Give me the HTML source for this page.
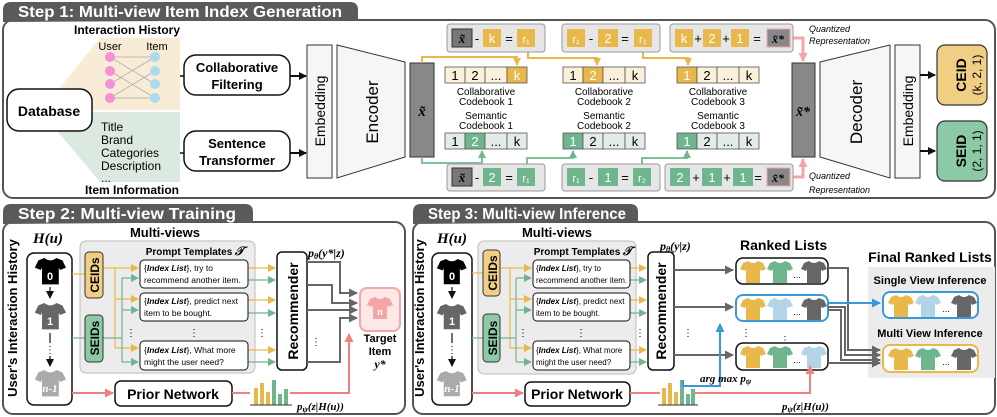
<!DOCTYPE html>
<html><head><meta charset="utf-8"><style>
html,body{margin:0;padding:0;background:#fff;}
svg{display:block;font-family:"Liberation Sans",sans-serif;}
.t{font-weight:bold;fill:#fff;font-size:16px}
.b{font-weight:bold}
.m{font-family:"Liberation Serif",serif;font-style:italic;font-weight:bold}
</style></head><body>
<svg width="997" height="417" viewBox="0 0 997 417" xmlns="http://www.w3.org/2000/svg">
<defs>
<marker id="ak" markerWidth="8" markerHeight="8" refX="7" refY="4" orient="auto" markerUnits="userSpaceOnUse"><path d="M0,0L8,4L0,8z" fill="#111"/></marker>
<marker id="ay" markerWidth="8" markerHeight="8" refX="7" refY="4" orient="auto" markerUnits="userSpaceOnUse"><path d="M0,0L8,4L0,8z" fill="#e8b94a"/></marker>
<marker id="ag" markerWidth="8" markerHeight="8" refX="7" refY="4" orient="auto" markerUnits="userSpaceOnUse"><path d="M0,0L8,4L0,8z" fill="#6fb58e"/></marker>
<marker id="ap" markerWidth="9" markerHeight="9" refX="8" refY="4.5" orient="auto" markerUnits="userSpaceOnUse"><path d="M0,0L9,4.5L0,9z" fill="#f08080"/></marker>
<marker id="aq" markerWidth="9" markerHeight="9" refX="8" refY="4.5" orient="auto" markerUnits="userSpaceOnUse"><path d="M0,0L9,4.5L0,9z" fill="#f4a6a6"/></marker>
<marker id="ad" markerWidth="9" markerHeight="9" refX="8" refY="4.5" orient="auto" markerUnits="userSpaceOnUse"><path d="M0,0L9,4.5L0,9z" fill="#666"/></marker>
<marker id="ab" markerWidth="9" markerHeight="9" refX="8" refY="4.5" orient="auto" markerUnits="userSpaceOnUse"><path d="M0,0L9,4.5L0,9z" fill="#3a9ad9"/></marker>
<path id="sh" d="M7,0 L2,2 L-1,8 L4,10 L5,8 L5,22 L19,22 L19,8 L20,10 L25,8 L22,2 L17,0 Q12,4 7,0 Z"/>
</defs>

<!-- STEP 1 -->
<rect x="3" y="20" width="992" height="178" rx="10" fill="#fff" stroke="#555" stroke-width="2"/>
<path d="M3,22 L3,10 Q3,2 11,2 L350,2 Q358,2 358,10 L358,20 Z" fill="#5a5a5a"/>
<text x="18" y="17" class="t" textLength="324" lengthAdjust="spacingAndGlyphs">Step 1: Multi-view Item Index Generation</text>

<text x="127" y="34" class="b" font-size="12" text-anchor="middle">Interaction History</text>
<path d="M100,38 L180,38 L180,110 L92,110 L58,90 Z" fill="#f8ecd6"/>
<path d="M92,112 L180,112 L180,182 L100,182 L58,132 Z" fill="#dbe9e1"/>
<text x="110" y="50" font-size="11" text-anchor="middle">User</text>
<text x="157" y="50" font-size="11" text-anchor="middle">Item</text>
<g stroke="#aaa" stroke-width="0.8">
<line x1="110" y1="57" x2="155" y2="84"/><line x1="110" y1="57" x2="155" y2="57"/><line x1="110" y1="71" x2="155" y2="98"/>
<line x1="110" y1="84" x2="155" y2="57"/><line x1="110" y1="98" x2="155" y2="71"/><line x1="110" y1="98" x2="155" y2="98"/>
</g>
<g fill="#f58fd8"><circle cx="110" cy="57" r="5"/><circle cx="110" cy="71" r="5"/><circle cx="110" cy="84" r="5"/><circle cx="110" cy="98" r="5"/></g>
<g fill="#a8dcef"><circle cx="155" cy="57" r="5"/><circle cx="155" cy="71" r="5"/><circle cx="155" cy="84" r="5"/><circle cx="155" cy="98" r="5"/></g>
<text x="101" y="131" font-size="12">Title</text>
<text x="101" y="144" font-size="12">Brand</text>
<text x="101" y="157" font-size="12">Categories</text>
<text x="101" y="170" font-size="12">Description</text>
<text x="101" y="182" font-size="12">...</text>
<text x="132" y="194" class="b" font-size="12" text-anchor="middle">Item Information</text>
<rect x="7" y="89" width="85" height="42" rx="12" fill="#fff" stroke="#111" stroke-width="1.5"/>
<text x="49" y="116" class="b" font-size="14" text-anchor="middle">Database</text>

<rect x="184" y="55" width="106" height="40" rx="12" fill="#fff" stroke="#111" stroke-width="1.5"/>
<text x="237" y="72" class="b" font-size="13" text-anchor="middle">Collaborative</text>
<text x="237" y="89" class="b" font-size="13" text-anchor="middle">Filtering</text>
<rect x="184" y="131" width="106" height="40" rx="12" fill="#fff" stroke="#111" stroke-width="1.5"/>
<text x="237" y="148" class="b" font-size="13" text-anchor="middle">Sentence</text>
<text x="237" y="165" class="b" font-size="13" text-anchor="middle">Transformer</text>
<line x1="180" y1="76" x2="184" y2="76" stroke="#111" stroke-width="1.5"/>
<line x1="180" y1="153" x2="184" y2="153" stroke="#111" stroke-width="1.5"/>
<line x1="290" y1="76" x2="306" y2="76" stroke="#111" stroke-width="2" marker-end="url(#ak)"/>
<line x1="290" y1="153" x2="306" y2="153" stroke="#111" stroke-width="2" marker-end="url(#ak)"/>

<rect x="307" y="45" width="25" height="133" fill="#f6f6f4" stroke="#333"/>
<text transform="translate(325,111) rotate(-90)" font-size="14" text-anchor="middle">Embedding</text>
<path d="M337,45 L405,62 L405,157 L337,178 Z" fill="#f6f6f4" stroke="#333"/>
<text transform="translate(378,112) rotate(-90)" font-size="17" text-anchor="middle">Encoder</text>
<rect x="410" y="63" width="24" height="94" fill="#888" stroke="#333"/>
<text x="422" y="116" class="m" font-size="15" text-anchor="middle">x̃</text>

<g fill="none" stroke="#e8b94a" stroke-width="2">
<path d="M422,63 L422,57 L517,57 L517,65" marker-end="url(#ay)"/>
<path d="M528,52 L528,58 L597,58 L597,65" marker-end="url(#ay)"/>
<path d="M643,52 L643,58 L688,58 L688,65" marker-end="url(#ay)"/>
</g>
<g fill="none" stroke="#7cc39a" stroke-width="2">
<path d="M422,157 L422,163 L482,163 L482,151" marker-end="url(#ag)"/>
<path d="M527,164 L527,158 L573,158 L573,151" marker-end="url(#ag)"/>
<path d="M642,164 L642,158 L687,158 L687,151" marker-end="url(#ag)"/>
</g>
<g fill="none" stroke="#f4a6a6" stroke-width="3">
<path d="M790,38 L803,38 L803,61" marker-end="url(#aq)"/>
<path d="M790,177 L803,177 L803,159" marker-end="url(#aq)"/>
</g>

<g font-size="13" text-anchor="middle">
<rect x="447" y="24" width="98" height="28" rx="3" fill="#e6e6e6" stroke="#999"/>
<rect x="452" y="29" width="20" height="18" fill="#777" stroke="#333"/><text x="462" y="43" class="m">x̃</text>
<text x="477" y="43">-</text>
<rect x="483" y="29" width="18" height="18" fill="#e8b94a"/><text x="492" y="43" fill="#fff">k</text>
<text x="509" y="43">=</text>
<rect x="517" y="29" width="18" height="18" fill="#e8b94a"/><text x="526" y="43" fill="#fff" font-size="11">r₁</text>

<rect x="562" y="24" width="98" height="28" rx="3" fill="#e6e6e6" stroke="#999"/>
<rect x="567" y="29" width="18" height="18" fill="#e8b94a"/><text x="576" y="43" fill="#fff" font-size="11">r₁</text>
<text x="591" y="43">-</text>
<rect x="598" y="29" width="20" height="18" fill="#e8b94a"/><text x="608" y="43" fill="#fff">2</text>
<text x="625" y="43">=</text>
<rect x="634" y="29" width="18" height="18" fill="#e8b94a"/><text x="643" y="43" fill="#fff" font-size="11">r₂</text>

<rect x="670" y="24" width="123" height="28" rx="3" fill="#e6e6e6" stroke="#999"/>
<rect x="675" y="29" width="18" height="18" fill="#e8b94a"/><text x="684" y="43" fill="#fff">k</text>
<text x="698" y="43">+</text>
<rect x="703" y="29" width="18" height="18" fill="#e8b94a"/><text x="712" y="43" fill="#fff">2</text>
<text x="726" y="43">+</text>
<rect x="731" y="29" width="18" height="18" fill="#e8b94a"/><text x="740" y="43" fill="#fff">1</text>
<text x="757" y="43">=</text>
<rect x="767" y="29" width="23" height="18" fill="#888" stroke="#f4a6a6"/><text x="778" y="43" class="m" font-size="12">x̃*</text>

<rect x="447" y="164" width="98" height="27" rx="3" fill="#e6e6e6" stroke="#999"/>
<rect x="452" y="168" width="20" height="18" fill="#777" stroke="#333"/><text x="462" y="182" class="m">x̃</text>
<text x="477" y="182">-</text>
<rect x="483" y="168" width="18" height="18" fill="#6fb58e"/><text x="492" y="182" fill="#fff">2</text>
<text x="509" y="182">=</text>
<rect x="517" y="168" width="18" height="18" fill="#6fb58e"/><text x="526" y="182" fill="#fff" font-size="11">r₁</text>

<rect x="562" y="164" width="98" height="27" rx="3" fill="#e6e6e6" stroke="#999"/>
<rect x="567" y="168" width="18" height="18" fill="#6fb58e"/><text x="576" y="182" fill="#fff" font-size="11">r₁</text>
<text x="591" y="182">-</text>
<rect x="598" y="168" width="20" height="18" fill="#6fb58e"/><text x="608" y="182" fill="#fff">1</text>
<text x="625" y="182">=</text>
<rect x="633" y="168" width="18" height="18" fill="#6fb58e"/><text x="642" y="182" fill="#fff" font-size="11">r₂</text>

<rect x="665" y="164" width="128" height="27" rx="3" fill="#e6e6e6" stroke="#999"/>
<rect x="670" y="168" width="20" height="18" fill="#6fb58e"/><text x="680" y="182" fill="#fff">2</text>
<text x="696" y="182">+</text>
<rect x="702" y="168" width="20" height="18" fill="#6fb58e"/><text x="712" y="182" fill="#fff">1</text>
<text x="727" y="182">+</text>
<rect x="733" y="168" width="20" height="18" fill="#6fb58e"/><text x="743" y="182" fill="#fff">1</text>
<text x="758" y="182">=</text>
<rect x="767" y="168" width="23" height="18" fill="#888" stroke="#f4a6a6"/><text x="778" y="182" class="m" font-size="12">x̃*</text>
</g>

<g font-size="13" text-anchor="middle" stroke="#555" stroke-width="0.8">
<rect x="445" y="67" width="20" height="16" fill="#fbf0d9"/><rect x="465" y="67" width="20" height="16" fill="#fbf0d9"/><rect x="485" y="67" width="22" height="16" fill="#fbf0d9"/><rect x="507" y="67" width="20" height="16" fill="#e8b94a"/>
<rect x="563" y="67" width="20" height="16" fill="#fbf0d9"/><rect x="583" y="67" width="20" height="16" fill="#e8b94a"/><rect x="603" y="67" width="22" height="16" fill="#fbf0d9"/><rect x="625" y="67" width="20" height="16" fill="#fbf0d9"/>
<rect x="677" y="67" width="20" height="16" fill="#e8b94a"/><rect x="697" y="67" width="20" height="16" fill="#fbf0d9"/><rect x="717" y="67" width="22" height="16" fill="#fbf0d9"/><rect x="739" y="67" width="20" height="16" fill="#fbf0d9"/>
<rect x="445" y="133" width="20" height="16" fill="#e3ece8"/><rect x="465" y="133" width="20" height="16" fill="#6fb58e"/><rect x="485" y="133" width="22" height="16" fill="#e3ece8"/><rect x="507" y="133" width="20" height="16" fill="#e3ece8"/>
<rect x="563" y="133" width="20" height="16" fill="#6fb58e"/><rect x="583" y="133" width="20" height="16" fill="#e3ece8"/><rect x="603" y="133" width="22" height="16" fill="#e3ece8"/><rect x="625" y="133" width="20" height="16" fill="#e3ece8"/>
<rect x="677" y="133" width="20" height="16" fill="#6fb58e"/><rect x="697" y="133" width="20" height="16" fill="#e3ece8"/><rect x="717" y="133" width="22" height="16" fill="#e3ece8"/><rect x="739" y="133" width="20" height="16" fill="#e3ece8"/>
</g>
<g font-size="13" text-anchor="middle">
<text x="455" y="80">1</text><text x="475" y="80">2</text><text x="496" y="80">...</text><text x="517" y="80" fill="#fff">k</text>
<text x="573" y="80">1</text><text x="593" y="80" fill="#fff">2</text><text x="614" y="80">...</text><text x="635" y="80">k</text>
<text x="687" y="80" fill="#fff">1</text><text x="707" y="80">2</text><text x="728" y="80">...</text><text x="749" y="80">k</text>
<text x="455" y="146">1</text><text x="475" y="146" fill="#fff">2</text><text x="496" y="146">...</text><text x="517" y="146">k</text>
<text x="573" y="146" fill="#fff">1</text><text x="593" y="146">2</text><text x="614" y="146">...</text><text x="635" y="146">k</text>
<text x="687" y="146" fill="#fff">1</text><text x="707" y="146">2</text><text x="728" y="146">...</text><text x="749" y="146">k</text>
</g>
<g font-size="10" text-anchor="middle">
<text x="486" y="95">Collaborative</text><text x="486" y="105">Codebook 1</text>
<text x="486" y="119">Semantic</text><text x="486" y="129">Codebook 1</text>
<text x="604" y="95">Collaborative</text><text x="604" y="105">Codebook 2</text>
<text x="604" y="119">Semantic</text><text x="604" y="129">Codebook 2</text>
<text x="718" y="95">Collaborative</text><text x="718" y="105">Codebook 3</text>
<text x="718" y="119">Semantic</text><text x="718" y="129">Codebook 3</text>
</g>
<g font-size="9" font-style="italic">
<text x="809" y="32">Quantized</text><text x="809" y="44">Representation</text>
<text x="809" y="179">Quantized</text><text x="809" y="193">Representation</text>
</g>
<rect x="792" y="63" width="23" height="94" fill="#888" stroke="#333"/>
<text x="803" y="116" class="m" font-size="14" text-anchor="middle">x̃*</text>
<path d="M820,62 L890,45 L890,178 L820,157 Z" fill="#f6f6f4" stroke="#333"/>
<text transform="translate(862,112) rotate(-90)" font-size="17" text-anchor="middle">Decoder</text>
<rect x="895" y="45" width="25" height="133" fill="#f6f6f4" stroke="#333"/>
<text transform="translate(913,111) rotate(-90)" font-size="14" text-anchor="middle">Embedding</text>
<line x1="920" y1="75" x2="935" y2="75" stroke="#111" stroke-width="2" marker-end="url(#ak)"/>
<line x1="920" y1="151" x2="935" y2="151" stroke="#111" stroke-width="2" marker-end="url(#ak)"/>
<rect x="937" y="45" width="50" height="60" rx="8" fill="#f0cf85" stroke="#333" stroke-width="1.2"/>
<text transform="translate(966,75) rotate(-90)" class="b" font-size="14" text-anchor="middle">CEID</text>
<text transform="translate(981,75) rotate(-90)" font-size="12" text-anchor="middle">(k, 2, 1)</text>
<rect x="937" y="121" width="50" height="60" rx="8" fill="#8ccaa5" stroke="#333" stroke-width="1.2"/>
<text transform="translate(966,151) rotate(-90)" class="b" font-size="14" text-anchor="middle">SEID</text>
<text transform="translate(981,151) rotate(-90)" font-size="12" text-anchor="middle">(2, 1, 1)</text>

<!-- STEP 2 -->
<rect x="3" y="222" width="402" height="192" rx="10" fill="#fff" stroke="#555" stroke-width="2"/>
<path d="M3,224 L3,212 Q3,204 11,204 L245,204 Q253,204 253,212 L253,222 Z" fill="#5a5a5a"/>
<text x="18" y="219" class="t" textLength="218" lengthAdjust="spacingAndGlyphs">Step 2: Multi-view Training</text>
<text transform="translate(17,318) rotate(-90)" class="b" font-size="13" text-anchor="middle">User's Interaction History</text>
<text x="48" y="243" class="m" font-size="15" text-anchor="middle">H(u)</text>
<rect x="27" y="253" width="45" height="152" rx="7" fill="#fff" stroke="#111" stroke-width="1.5"/>
<g transform="translate(36,258) scale(1.2)"><use href="#sh" fill="#000"/></g>
<g transform="translate(36,303) scale(1.2)"><use href="#sh" fill="#666"/></g>
<g transform="translate(36,370) scale(1.2)"><use href="#sh" fill="#aaa"/></g>
<g font-size="11" class="b" fill="#fff" text-anchor="middle"><text x="50" y="280">0</text><text x="50" y="325">1</text><text x="50" y="392" font-family="Liberation Serif" font-style="italic">n-1</text></g>
<g stroke="#111" stroke-width="1.2"><line x1="50" y1="287" x2="50" y2="298" marker-end="url(#ak)"/><line x1="50" y1="333" x2="50" y2="343"/><line x1="50" y1="356" x2="50" y2="366" marker-end="url(#ak)"/></g>
<text x="50" y="353" font-size="10" text-anchor="middle">⋮</text>

<text x="165" y="237" class="b" font-size="13" text-anchor="middle">Multi-views</text>
<rect x="80" y="241" width="175" height="132" rx="6" fill="#ececec" stroke="#bbb"/>
<text x="195" y="255" class="b" font-size="10" text-anchor="middle">Prompt Templates <tspan class="m" font-size="12">𝒯</tspan></text>
<g fill="none" stroke="#e8b94a" stroke-width="1.2">
<path d="M72,274 L85,274"/><path d="M103,268 L115,268 L115,348"/>
<path d="M115,268 L138,268" marker-end="url(#ay)"/><path d="M115,299 L138,299" marker-end="url(#ay)"/><path d="M115,348 L138,348" marker-end="url(#ay)"/>
<path d="M248,268 L275,268" marker-end="url(#ay)"/><path d="M248,300 L275,300" marker-end="url(#ay)"/><path d="M248,350 L275,350" marker-end="url(#ay)"/>
</g>
<g fill="none" stroke="#6fb58e" stroke-width="1.2">
<path d="M72,338 L85,338"/><path d="M103,338 L122,338"/><path d="M122,278 L122,362"/>
<path d="M122,278 L138,278" marker-end="url(#ag)"/><path d="M122,310 L138,310" marker-end="url(#ag)"/><path d="M122,362 L138,362" marker-end="url(#ag)"/>
<path d="M248,280 L275,280" marker-end="url(#ag)"/><path d="M248,313 L275,313" marker-end="url(#ag)"/><path d="M248,362 L275,362" marker-end="url(#ag)"/>
</g>
<rect x="85" y="252" width="18" height="46" rx="4" fill="#f0cf85" stroke="#333"/>
<text transform="translate(99,275) rotate(-90)" class="b" font-size="12" text-anchor="middle">CEIDs</text>
<rect x="85" y="315" width="18" height="47" rx="4" fill="#8ccaa5" stroke="#333"/>
<text transform="translate(99,338) rotate(-90)" class="b" font-size="12" text-anchor="middle">SEIDs</text>
<g font-size="8.5">
<rect x="140" y="260" width="108" height="28" rx="4" fill="#fff" stroke="#111"/>
<text x="144" y="271">{<tspan font-weight="bold" font-style="italic">Index List</tspan>}, try to</text><text x="144" y="283">recommend another item.</text>
<rect x="140" y="293" width="108" height="28" rx="4" fill="#fff" stroke="#111"/>
<text x="144" y="304">{<tspan font-weight="bold" font-style="italic">Index List</tspan>}, predict next</text><text x="144" y="316">item to be bought.</text>
<rect x="140" y="341" width="108" height="29" rx="4" fill="#fff" stroke="#111"/>
<text x="144" y="353">{<tspan font-weight="bold" font-style="italic">Index List</tspan>}, What more</text><text x="144" y="365">might the user need?</text>
</g>
<g font-size="10" text-anchor="middle"><text x="131" y="336">⋮</text><text x="194" y="336">⋮</text><text x="262" y="336">⋮</text><text x="316" y="345">⋮</text></g>
<rect x="277" y="252" width="30" height="118" rx="5" fill="#fff" stroke="#111" stroke-width="1.5"/>
<text transform="translate(298,311) rotate(-90)" class="b" font-size="14" text-anchor="middle">Recommender</text>
<text x="308" y="257" class="m" font-size="12">p<tspan font-size="8" dy="2">θ</tspan><tspan dy="-2">(y*|z)</tspan></text>
<g fill="none" stroke="#666" stroke-width="2">
<path d="M307,262 L340,262 L340,293 L357,293" marker-end="url(#ad)"/>
<path d="M307,285 L332,285 L332,303 L357,303" marker-end="url(#ad)"/>
<path d="M307,310 L357,310" marker-end="url(#ad)"/>
<path d="M307,362 L340,362 L340,318 L357,318" marker-end="url(#ad)"/>
</g>
<rect x="360" y="288" width="40" height="43" rx="7" fill="#fde8e8" stroke="#f4a6a6" stroke-width="2"/>
<g transform="translate(368,297)"><use href="#sh" fill="#f4a6a6"/></g>
<text x="380" y="315" class="m" fill="#fff" font-size="10" text-anchor="middle">n</text>
<text x="380" y="342" class="b" font-size="11" text-anchor="middle">Target</text>
<text x="380" y="355" class="b" font-size="11" text-anchor="middle">Item</text>
<text x="380" y="368" class="m" font-size="12" text-anchor="middle">y*</text>
<rect x="115" y="381" width="117" height="25" rx="6" fill="#fff" stroke="#111" stroke-width="1.5"/>
<text x="173" y="399" class="b" font-size="14" text-anchor="middle">Prior Network</text>
<path d="M72,393 L113,393" stroke="#f08080" stroke-width="2" marker-end="url(#ap)"/>
<path d="M232,393 L250,393 M290,393 L349,393 L349,334" fill="none" stroke="#f08080" stroke-width="2" marker-end="url(#ap)"/>
<g><rect x="254" y="388" width="4" height="17" fill="#e8b94a"/><rect x="260" y="383" width="4" height="22" fill="#e8b94a"/><rect x="266" y="392" width="4" height="13" fill="#e8b94a"/><rect x="272" y="380" width="4" height="25" fill="#6fb58e"/><rect x="278" y="394" width="4" height="11" fill="#6fb58e"/><rect x="284" y="389" width="4" height="16" fill="#6fb58e"/><line x1="250" y1="405" x2="292" y2="405" stroke="#333"/></g>
<text x="297" y="410" class="m" font-size="11">p<tspan font-size="8" dy="2">ψ</tspan><tspan dy="-2">(z|H(u))</tspan></text>

<!-- STEP 3 -->
<rect x="413" y="222" width="582" height="192" rx="10" fill="#fff" stroke="#555" stroke-width="2"/>
<path d="M413,224 L413,212 Q413,204 421,204 L630,204 Q638,204 638,212 L638,222 Z" fill="#5a5a5a"/>
<text x="428" y="219" class="t" textLength="198" lengthAdjust="spacingAndGlyphs">Step 3: Multi-view Inference</text>
<text transform="translate(424,318) rotate(-90)" class="b" font-size="13" text-anchor="middle">User's Interaction History</text>
<text x="452" y="243" class="m" font-size="15" text-anchor="middle">H(u)</text>
<rect x="432" y="253" width="40" height="152" rx="7" fill="#fff" stroke="#111" stroke-width="1.5"/>
<g transform="translate(438,259) scale(1.15)"><use href="#sh" fill="#000"/></g>
<g transform="translate(438,304) scale(1.15)"><use href="#sh" fill="#666"/></g>
<g transform="translate(438,371) scale(1.15)"><use href="#sh" fill="#aaa"/></g>
<g font-size="11" class="b" fill="#fff" text-anchor="middle"><text x="452" y="280">0</text><text x="452" y="325">1</text><text x="452" y="392" font-family="Liberation Serif" font-style="italic">n-1</text></g>
<g stroke="#111" stroke-width="1.2"><line x1="452" y1="287" x2="452" y2="298" marker-end="url(#ak)"/><line x1="452" y1="333" x2="452" y2="343"/><line x1="452" y1="356" x2="452" y2="366" marker-end="url(#ak)"/></g>
<text x="452" y="353" font-size="10" text-anchor="middle">⋮</text>

<text x="557" y="237" class="b" font-size="13" text-anchor="middle">Multi-views</text>
<rect x="478" y="241" width="158" height="133" rx="6" fill="#ececec" stroke="#bbb"/>
<text x="583" y="255" class="b" font-size="10" text-anchor="middle">Prompt Templates <tspan class="m" font-size="12">𝒯</tspan></text>
<g fill="none" stroke="#e8b94a" stroke-width="1.2">
<path d="M472,273 L483,273"/><path d="M500,268 L510,268 L510,348"/>
<path d="M510,268 L531,268" marker-end="url(#ay)"/><path d="M510,299 L531,299" marker-end="url(#ay)"/><path d="M510,348 L531,348" marker-end="url(#ay)"/>
<path d="M630,268 L646,268" marker-end="url(#ay)"/><path d="M630,300 L646,300" marker-end="url(#ay)"/><path d="M630,350 L646,350" marker-end="url(#ay)"/>
</g>
<g fill="none" stroke="#6fb58e" stroke-width="1.2">
<path d="M472,338 L483,338"/><path d="M500,338 L516,338"/><path d="M516,278 L516,362"/>
<path d="M516,278 L531,278" marker-end="url(#ag)"/><path d="M516,310 L531,310" marker-end="url(#ag)"/><path d="M516,362 L531,362" marker-end="url(#ag)"/>
<path d="M630,280 L646,280" marker-end="url(#ag)"/><path d="M630,313 L646,313" marker-end="url(#ag)"/><path d="M630,362 L646,362" marker-end="url(#ag)"/>
</g>
<rect x="483" y="250" width="17" height="46" rx="4" fill="#f0cf85" stroke="#333"/>
<text transform="translate(497,273) rotate(-90)" class="b" font-size="12" text-anchor="middle">CEIDs</text>
<rect x="483" y="314" width="17" height="48" rx="4" fill="#8ccaa5" stroke="#333"/>
<text transform="translate(497,338) rotate(-90)" class="b" font-size="12" text-anchor="middle">SEIDs</text>
<g font-size="8">
<rect x="533" y="260" width="97" height="28" rx="4" fill="#fff" stroke="#111"/>
<text x="536" y="271">{<tspan font-weight="bold" font-style="italic">Index List</tspan>}, try to</text><text x="536" y="283">recommend another item.</text>
<rect x="533" y="293" width="97" height="28" rx="4" fill="#fff" stroke="#111"/>
<text x="536" y="304">{<tspan font-weight="bold" font-style="italic">Index List</tspan>}, predict next</text><text x="536" y="316">item to be bought.</text>
<rect x="533" y="341" width="97" height="29" rx="4" fill="#fff" stroke="#111"/>
<text x="536" y="353">{<tspan font-weight="bold" font-style="italic">Index List</tspan>}, What more</text><text x="536" y="365">might the user need?</text>
</g>
<g font-size="10" text-anchor="middle"><text x="523" y="336">⋮</text><text x="581" y="336">⋮</text><text x="640" y="336">⋮</text><text x="688" y="336">⋮</text><text x="746" y="336">⋮</text><text x="785" y="343">⋮</text></g>
<rect x="648" y="252" width="26" height="118" rx="5" fill="#fff" stroke="#111" stroke-width="1.5"/>
<text transform="translate(666,311) rotate(-90)" class="b" font-size="14" text-anchor="middle">Recommender</text>
<text x="660" y="250" class="m" font-size="12">p<tspan font-size="8" dy="2">θ</tspan><tspan dy="-2">(y|z)</tspan></text>
<text x="740" y="250" class="b" font-size="14">Ranked Lists</text>
<g stroke="#666" stroke-width="2">
<line x1="674" y1="270" x2="733" y2="270" marker-end="url(#ad)"/>
<line x1="674" y1="307" x2="733" y2="307" marker-end="url(#ad)"/>
<line x1="674" y1="355" x2="733" y2="355" marker-end="url(#ad)"/>
</g>
<rect x="736" y="258" width="92" height="26" rx="7" fill="#fff" stroke="#111" stroke-width="1.5"/>
<rect x="736" y="295" width="92" height="26" rx="7" fill="#fff" stroke="#3a9ad9" stroke-width="2"/>
<rect x="736" y="343" width="92" height="27" rx="7" fill="#fff" stroke="#111" stroke-width="1.5"/>
<g transform="translate(741,261)"><use href="#sh" fill="#e8b94a"/></g><g transform="translate(768,261)"><use href="#sh" fill="#6fb58e"/></g><g transform="translate(802,261)"><use href="#sh" fill="#666"/></g>
<g transform="translate(741,298)"><use href="#sh" fill="#e8b94a"/></g><g transform="translate(768,298)"><use href="#sh" fill="#b3d4e6"/></g><g transform="translate(802,298)"><use href="#sh" fill="#666"/></g>
<g transform="translate(741,346)"><use href="#sh" fill="#e8b94a"/></g><g transform="translate(768,346)"><use href="#sh" fill="#6fb58e"/></g><g transform="translate(802,346)"><use href="#sh" fill="#b3d4e6"/></g>
<g font-size="9" text-anchor="middle"><text x="797" y="278">...</text><text x="797" y="315">...</text><text x="797" y="363">...</text></g>

<text x="930" y="262" class="b" font-size="14" text-anchor="middle">Final Ranked Lists</text>
<rect x="868" y="267" width="127" height="111" fill="#ececec"/>
<text x="930" y="284" class="b" font-size="11" text-anchor="middle">Single View Inference</text>
<text x="930" y="337" class="b" font-size="11" text-anchor="middle">Multi View Inference</text>
<g fill="none" stroke="#666" stroke-width="2">
<path d="M828,268 L848,268 L848,350 L880,350" marker-end="url(#ad)"/>
<path d="M828,307 L845,307 L845,355 L880,355" marker-end="url(#ad)"/>
<path d="M828,310 L841,310 L841,360 L880,360" marker-end="url(#ad)"/>
<path d="M828,363 L880,363" marker-end="url(#ad)"/>
</g>
<path d="M828,303 L880,303" stroke="#3a9ad9" stroke-width="2" marker-end="url(#ab)"/>
<rect x="883" y="292" width="95" height="26" rx="7" fill="#fff" stroke="#3a9ad9" stroke-width="2"/>
<rect x="883" y="345" width="95" height="27" rx="7" fill="#fff" stroke="#e8b94a" stroke-width="2"/>
<g transform="translate(889,295)"><use href="#sh" fill="#e8b94a"/></g><g transform="translate(916,295)"><use href="#sh" fill="#b3d4e6"/></g><g transform="translate(952,295)"><use href="#sh" fill="#666"/></g>
<g transform="translate(889,348)"><use href="#sh" fill="#e8b94a"/></g><g transform="translate(916,348)"><use href="#sh" fill="#6fb58e"/></g><g transform="translate(952,348)"><use href="#sh" fill="#666"/></g>
<g font-size="9" text-anchor="middle"><text x="946" y="312">...</text><text x="946" y="365">...</text></g>

<rect x="525" y="382" width="105" height="24" rx="6" fill="#fff" stroke="#111" stroke-width="1.5"/>
<text x="577" y="399" class="b" font-size="14" text-anchor="middle">Prior Network</text>
<path d="M472,393 L523,393" stroke="#f08080" stroke-width="2" marker-end="url(#ap)"/>
<path d="M630,393 L660,393 M695,393 L810,393 L810,366" fill="none" stroke="#f08080" stroke-width="2" marker-end="url(#ap)"/>
<g><rect x="662" y="388" width="4" height="17" fill="#e8b94a"/><rect x="668" y="383" width="4" height="22" fill="#e8b94a"/><rect x="674" y="392" width="4" height="13" fill="#e8b94a"/><rect x="680" y="380" width="4" height="25" fill="#6fb58e"/><rect x="686" y="394" width="4" height="11" fill="#6fb58e"/><rect x="691" y="389" width="4" height="16" fill="#6fb58e"/><line x1="658" y1="405" x2="698" y2="405" stroke="#333"/></g>
<path d="M683,380 L683,386 L720,386 L720,324" fill="none" stroke="#3a9ad9" stroke-width="2" marker-end="url(#ab)"/>
<text x="700" y="382" class="m" font-size="11">arg max p<tspan font-size="8" dy="2">ψ</tspan></text>
<text x="782" y="410" class="m" font-size="11">p<tspan font-size="8" dy="2">ψ</tspan><tspan dy="-2">(z|H(u))</tspan></text>
</svg>
</body></html>
